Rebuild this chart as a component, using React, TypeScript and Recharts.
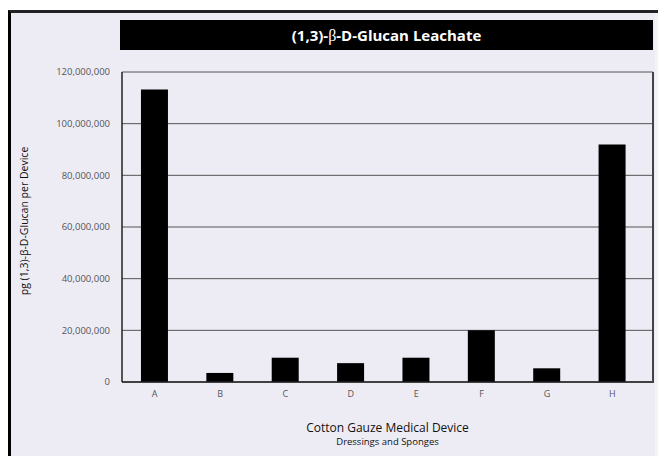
import React from 'react';
import { BarChart, Bar, XAxis, YAxis, CartesianGrid, Label } from 'recharts';

// values
const devices = ['A', 'B', 'C', 'D', 'E', 'F', 'G', 'H'];
const glucanPg = [113200000, 3500000, 9400000, 7300000, 9400000, 20000000, 5300000, 91900000];
const yTicks = [0, 20000000, 40000000, 60000000, 80000000, 100000000, 120000000];

const FONT = '"Open Sans", "Noto Sans", sans-serif';
const BG = '#EDECF5';

const chartData = devices.map((name, i) => ({ name, value: glucanPg[i] }));

const fmt = (v: number) => v.toLocaleString('en-US');

// two-line x-axis title
function XTitle(props: any) {
  const vb = props.viewBox || { x: 0, y: 0, width: 0 };
  const cx = vb.x + vb.width / 2;
  return (
    <g fontFamily={FONT} fill="#111" textAnchor="middle">
      <text x={cx} y={432} fontSize={12}>Cotton Gauze Medical Device</text>
      <text x={cx} y={445} fontSize={9.5}>Dressings and Sponges</text>
    </g>
  );
}

function YTitle() {
  return (
    <text
      x={24}
      y={221}
      transform="rotate(-90 24 221)"
      textAnchor="middle"
      dominantBaseline="central"
      fontFamily={FONT}
      fontSize={10.5}
      fill="#111"
    >
      pg (1,3)-β-D-Glucan per Device
    </text>
  );
}

export default function App() {
  return (
    <div style={{ position: 'absolute', left: 0, top: 0, width: 658, height: 456, background: '#fff', overflow: 'hidden' }}>
      {/* framed panel */}
      <div
        style={{
          position: 'absolute',
          left: 8,
          top: 10,
          width: 650,
          height: 446,
          background: BG,
          borderLeft: '3px solid #000',
          borderTop: '3px solid #222',
          boxSizing: 'border-box',
        }}
      />
      <div style={{ position: 'absolute', left: 655, top: 13, width: 3, height: 443, background: '#F3F2F8' }} />
      {/* title bar */}
      <div
        style={{
          position: 'absolute',
          left: 120,
          top: 20,
          width: 533,
          height: 30,
          background: '#000',
          color: '#fff',
          fontFamily: FONT,
          fontWeight: 700,
          fontSize: 15,
          lineHeight: '30px',
          textAlign: 'center',
        }}
      >
        (1,3)-<span style={{ fontFamily: '"Liberation Serif", serif', fontWeight: 400, fontSize: 16 }}>β</span>-D-Glucan Leachate
      </div>
      <div style={{ position: 'absolute', left: 0, top: 0 }}>
        <BarChart
          width={658}
          height={456}
          data={chartData}
          margin={{ top: 72, right: 5, left: 0, bottom: 44 }}
          barCategoryGap="29%"
        >
          <CartesianGrid vertical={false} stroke="#555" strokeWidth={1} />
          <XAxis
            dataKey="name"
            height={30}
            padding={{ left: 0, right: 8 }}
            tickLine={false}
            tickSize={0}
            tickMargin={9}
            axisLine={{ stroke: '#222', strokeWidth: 1.5 }}
            tick={{ fontSize: 9, fill: '#555', fontFamily: FONT }}
          >
            <Label content={<XTitle />} />
          </XAxis>
          <YAxis
            width={122}
            domain={[0, 120000000]}
            ticks={yTicks}
            interval={0}
            tickFormatter={fmt}
            tickLine={false}
            tickSize={0}
            tickMargin={12}
            axisLine={{ stroke: '#222', strokeWidth: 1.5 }}
            tick={{ fontSize: 9.5, fill: '#555', fontFamily: FONT }}
          >
            <Label content={<YTitle />} />
          </YAxis>
          <Bar dataKey="value" fill="#000" isAnimationActive={false} />
        </BarChart>
      </div>
      {/* right edge of the plot frame, drawn over the chart */}
      <div style={{ position: 'absolute', left: 652, top: 72, width: 2, height: 311, background: '#444' }} />
    </div>
  );
}
